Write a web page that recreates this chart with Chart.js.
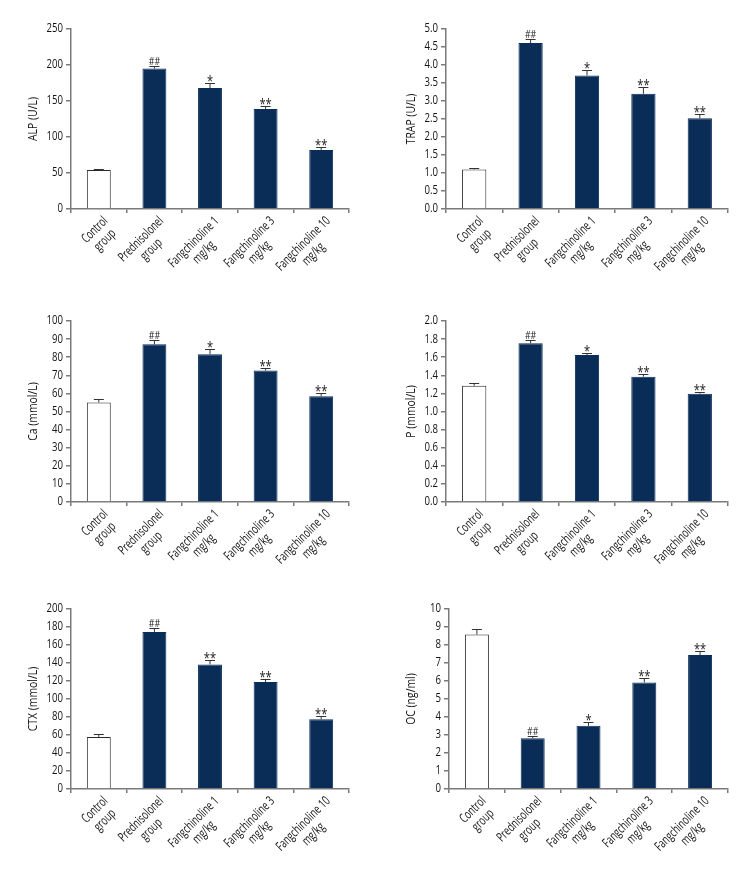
<!DOCTYPE html>
<html>
<head>
<meta charset="utf-8">
<script src="https://cdn.jsdelivr.net/npm/chart.js@4"></script>
<style>
  body { margin: 0; background: #fff; }
  #page { position: relative; width: 756px; height: 888px; overflow: hidden; }
  canvas { position: absolute; }
</style>
</head>
<body>
<div id="page"></div>
<script>
// categories shared by all six panels
const groups = [
    ['Control', 'group'],
    ['Prednisolonel', 'group'],
    ['Fangchinoline 1', 'mg/kg'],
    ['Fangchinoline 3', 'mg/kg'],
    ['Fangchinoline 10', 'mg/kg']
];

// means, upper error and significance marks
const alpMeans = [54, 195, 168, 139, 82];
const alpErrors = [1.3, 3.8, 7.5, 4.5, 3.5];
const alpMarks = ['', '##', '*', '**', '**'];

const trapMeans = [1.10, 4.61, 3.71, 3.20, 2.52];
const trapErrors = [0.05, 0.11, 0.16, 0.18, 0.11];
const trapMarks = ['', '##', '*', '**', '**'];

const caMeans = [55.0, 87.1, 81.6, 72.6, 58.4];
const caErrors = [1.8, 2.4, 2.7, 1.2, 2.0];
const caMarks = ['', '##', '*', '**', '**'];

const pMeans = [1.285, 1.753, 1.624, 1.385, 1.197];
const pErrors = [0.03, 0.037, 0.022, 0.025, 0.013];
const pMarks = ['', '##', '*', '**', '**'];

const ctxMeans = [57.9, 174.5, 138.4, 118.8, 77.5];
const ctxErrors = [3.0, 4.8, 4.8, 3.0, 3.3];
const ctxMarks = ['', '##', '**', '**', '**'];

const ocMeans = [8.58, 2.82, 3.51, 5.92, 7.44];
const ocErrors = [0.29, 0.15, 0.20, 0.22, 0.20];
const ocMarks = ['', '##', '*', '**', '**'];

// y axis ranges: [max, step, decimals]
const alpAxis = [250, 50, 0];
const trapAxis = [5, 0.5, 1];
const caAxis = [100, 10, 0];
const pAxis = [2, 0.2, 1];
const ctxAxis = [200, 20, 0];
const ocAxis = [10, 1, 0];

// the figure uses a condensed face; squeeze Open Sans horizontally instead
const FONT = "'Open Sans', 'Noto Sans', sans-serif";
const SQUEEZE = 0.8;
const LABEL_SQUEEZE = 0.69;
const NAVY = '#0a2d58';
const AXIS = '#7a7a7a';
const INK = '#141414';

Chart.defaults.font.family = FONT;

// panel boxes: canvas origin + plot area [left, top, right, bottom] in page coords
const panels = [
    { title: 'ALP (U/L)', means: alpMeans, errors: alpErrors, marks: alpMarks, axis: alpAxis,
      x0: 0, y0: 0, h: 296, area: [71, 29, 349, 209] },
    { title: 'TRAP (U/L)', means: trapMeans, errors: trapErrors, marks: trapMarks, axis: trapAxis,
      x0: 378, y0: 0, h: 296, area: [446, 29, 728, 209] },
    { title: 'Ca (mmol/L)', means: caMeans, errors: caErrors, marks: caMarks, axis: caAxis,
      x0: 0, y0: 296, h: 296, area: [71, 321, 349, 502] },
    { title: 'P (mmol/L)', means: pMeans, errors: pErrors, marks: pMarks, axis: pAxis,
      x0: 378, y0: 296, h: 296, area: [446, 321, 728, 502] },
    { title: 'CTX (mmol/L)', means: ctxMeans, errors: ctxErrors, marks: ctxMarks, axis: ctxAxis,
      x0: 0, y0: 592, h: 296, area: [71, 609, 349, 789] },
    { title: 'OC (ng/ml)', means: ocMeans, errors: ocErrors, marks: ocMarks, axis: ocAxis,
      x0: 378, y0: 592, h: 296, area: [449, 609, 728, 789] }
];

function squeezedText(ctx, text, x, y, rot) {
    ctx.save();
    ctx.translate(x, y);
    if (rot) ctx.rotate(rot);
    ctx.scale(SQUEEZE, 1);
    ctx.fillText(text, 0, 0);
    ctx.restore();
}

// error bars (upper only) + significance marks
const errorBars = {
    id: 'errorBars',
    afterDatasetsDraw(chart, args, opts) {
        const { ctx } = chart;
        const y = chart.scales.y;
        const meta = chart.getDatasetMeta(0);
        ctx.save();
        ctx.strokeStyle = '#333';
        ctx.lineWidth = 1;
        meta.data.forEach((bar, i) => {
            const top = Math.round(y.getPixelForValue(opts.means[i] + opts.errors[i])) + 0.5;
            ctx.beginPath();
            ctx.moveTo(bar.x, bar.y);
            ctx.lineTo(bar.x, top);
            ctx.moveTo(bar.x - 5, top);
            ctx.lineTo(bar.x + 5, top);
            ctx.stroke();
            const m = opts.marks[i];
            if (!m) return;
            ctx.fillStyle = '#222';
            ctx.textAlign = 'center';
            ctx.textBaseline = 'alphabetic';
            if (m[0] === '#') {
                ctx.font = '11px ' + FONT;
                squeezedText(ctx, m, bar.x, top - 2);
            } else {
                ctx.font = '14px ' + FONT;
                squeezedText(ctx, m, bar.x, top + 2);
            }
        });
        ctx.restore();
    }
};

// y tick labels, y title and slanted two-line category labels
const axisText = {
    id: 'axisText',
    afterDraw(chart, args, opts) {
        const { ctx } = chart;
        const x = chart.scales.x;
        const y = chart.scales.y;
        ctx.save();
        ctx.fillStyle = INK;

        ctx.font = '12px ' + FONT;
        ctx.textAlign = 'right';
        ctx.textBaseline = 'middle';
        y.ticks.forEach(t => {
            squeezedText(ctx, Number(t.value).toFixed(opts.dec), y.right - 8, y.getPixelForValue(t.value));
        });

        ctx.font = '13px ' + FONT;
        ctx.textAlign = 'center';
        squeezedText(ctx, opts.title, 33, (y.top + y.bottom) / 2, -Math.PI / 2);

        ctx.font = '13px ' + FONT;
        groups.forEach((lines, i) => {
            const cx = x.getPixelForValue(i);
            const w = Math.max(...lines.map(s => ctx.measureText(s).width));
            ctx.save();
            ctx.translate(cx + 7, x.top + 10);
            ctx.rotate(-Math.PI / 4);
            ctx.scale(LABEL_SQUEEZE, 1);
            lines.forEach((s, k) => ctx.fillText(s, -w / 2, k * 14.5));
            ctx.restore();
        });
        ctx.restore();
    }
};

const page = document.getElementById('page');

panels.forEach(p => {
    const cv = document.createElement('canvas');
    cv.width = 378;
    cv.height = p.h;
    cv.style.left = p.x0 + 'px';
    cv.style.top = p.y0 + 'px';
    page.appendChild(cv);

    const [L, T, R, B] = p.area;
    const xHeight = 80;
    const [max, step, dec] = p.axis;

    new Chart(cv, {
        type: 'bar',
        data: {
            labels: groups,
            datasets: [{
                data: p.means,
                backgroundColor: p.means.map((v, i) => i === 0 ? '#ffffff' : NAVY),
                borderColor: p.means.map((v, i) => i === 0 ? '#2a2a2a' : NAVY),
                borderWidth: 1,
                barPercentage: 0.43,
                categoryPercentage: 1
            }]
        },
        options: {
            responsive: false,
            animation: false,
            layout: {
                autoPadding: false,
                padding: {
                    left: 0,
                    top: T - p.y0,
                    right: p.x0 + 378 - R,
                    bottom: p.y0 + p.h - B - xHeight
                }
            },
            plugins: {
                legend: { display: false },
                tooltip: { enabled: false },
                errorBars: { means: p.means, errors: p.errors, marks: p.marks },
                axisText: { title: p.title, dec: dec }
            },
            scales: {
                x: {
                    offset: true,
                    afterFit: s => { s.height = xHeight; },
                    grid: {
                        offset: true,
                        drawOnChartArea: false,
                        drawTicks: true,
                        tickLength: 4,
                        color: AXIS,
                        lineWidth: 1.5
                    },
                    border: { color: AXIS, width: 1.5 },
                    ticks: { display: false }
                },
                y: {
                    min: 0,
                    max: max,
                    afterFit: s => { s.width = L - p.x0; },
                    grid: {
                        drawOnChartArea: false,
                        drawTicks: true,
                        tickLength: 5,
                        color: AXIS,
                        lineWidth: 1.5
                    },
                    border: { color: AXIS, width: 1.5 },
                    ticks: { stepSize: step, display: false }
                }
            }
        },
        plugins: [errorBars, axisText]
    });
});
</script>
</body>
</html>
